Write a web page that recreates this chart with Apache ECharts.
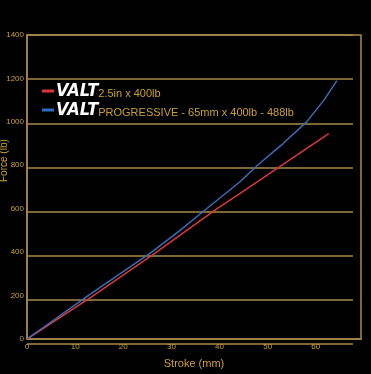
<!DOCTYPE html>
<html>
<head>
<meta charset="utf-8">
<script src="https://cdn.jsdelivr.net/npm/echarts@6/dist/echarts.min.js"></script>
<style>html,body{margin:0;padding:0;background:#000;}#c{width:371px;height:374px;}</style>
</head>
<body>
<div id="c"></div>
<script>
var xTicks = [0, 10, 20, 30, 40, 50, 60];
var yTicks = [0, 200, 400, 600, 800, 1000, 1200, 1400];
var seriesNames = ['2.5in x 400lb', 'PROGRESSIVE - 65mm x 400lb - 488lb'];
var redStroke = [0, 13.8, 26.9, 39.5, 44.2, 52.9, 62.7];
var redForce  = [0, 200, 400, 600, 670, 800, 946];
var blueStroke = [0, 12.7, 25.9, 31.8, 37.3, 44.2, 47.9, 53.2, 58.1, 61.7, 64.4];
var blueForce  = [0, 200, 400, 500, 600, 723, 800, 900, 1000, 1100, 1190];

function pairs(xs, ys) { return xs.map(function (x, i) { return [x, ys[i]]; }); }

var gold = '#c9a030';
var lineC = '#a88a4a';
var chart = echarts.init(document.getElementById('c'));
chart.setOption({
  backgroundColor: '#000',
  animation: false,
  grid: [
    { left: 27, right: 10, top: 35, bottom: 30, show: true, borderColor: lineC, borderWidth: 1.5, backgroundColor: 'transparent' },
    { left: 27, right: 18, top: 35, bottom: 30 }
  ],
  legend: {
    orient: 'vertical', left: 42, top: 82, itemGap: 1, padding: 0,
    itemWidth: 12, itemHeight: 3, icon: 'rect',
    data: seriesNames,
    formatter: function (n) { return '{v|VALT}{t|' + n + '}'; },
    textStyle: {
      padding: [0, 0, 0, -3],
      rich: {
        v: { fontFamily: 'Liberation Sans Narrow, DejaVu Sans Condensed', fontSize: 18, fontWeight: 'bold', fontStyle: 'italic', color: '#fff', padding: [0, 0, 0, 0] },
        t: { fontFamily: 'Liberation Sans, Arial', fontSize: 11, color: gold, verticalAlign: 'bottom', padding: [0, 0, 1, 0] }
      }
    }
  },
  xAxis: [
    {
      gridIndex: 0, type: 'value', min: 0, max: 69.4, interval: 10,
      name: 'Stroke (mm)', nameLocation: 'middle', nameGap: 19,
      nameTextStyle: { color: gold, fontSize: 11, fontFamily: 'Liberation Sans, Arial' },
      axisLine: { show: true, lineStyle: { color: lineC, width: 1.5 } },
      axisTick: { show: false },
      splitLine: { show: false },
      axisLabel: { color: gold, fontSize: 8, margin: 4, showMaxLabel: false, fontFamily: 'Liberation Sans, Arial',
        formatter: function (v) { return xTicks.indexOf(v) >= 0 ? String(v) : ''; } }
    },
    { gridIndex: 1, type: 'value', min: 0, max: 70, show: false }
  ],
  yAxis: [
    {
      gridIndex: 0, type: 'value', min: 0, max: 1400, interval: 200,
      axisLine: { show: true, lineStyle: { color: lineC, width: 1.5 } },
      axisTick: { show: false },
      splitLine: { show: false },
      axisLabel: { color: gold, fontSize: 8, margin: 3, fontFamily: 'Liberation Sans, Arial',
        formatter: function (v) { return yTicks.indexOf(v) >= 0 ? String(v) : ''; } }
    },
    {
      gridIndex: 1, type: 'value', min: 0, max: 1400, interval: 200,
      axisLine: { show: false }, axisTick: { show: false }, axisLabel: { show: false },
      splitLine: { show: true, lineStyle: { color: lineC, width: 1.5 } }
    }
  ],
  graphic: [{
    type: 'text', x: -1, y: 182, rotation: Math.PI / 2,
    style: { text: 'Force (lb)', fill: gold, fontSize: 10, fontFamily: 'Liberation Sans, Arial', textAlign: 'left', textVerticalAlign: 'top' }
  }],
  series: [
    { name: seriesNames[0], type: 'line', xAxisIndex: 0, yAxisIndex: 0, data: pairs(redStroke, redForce),
      showSymbol: false, lineStyle: { color: '#d8383a', width: 1.5 }, itemStyle: { color: '#d8383a' }, z: 3 },
    { name: seriesNames[1], type: 'line', xAxisIndex: 0, yAxisIndex: 0, data: pairs(blueStroke, blueForce),
      showSymbol: false, lineStyle: { color: '#3a6cb8', width: 1.5 }, itemStyle: { color: '#2f6cc8' }, z: 3 }
  ]
});
</script>
</body>
</html>
